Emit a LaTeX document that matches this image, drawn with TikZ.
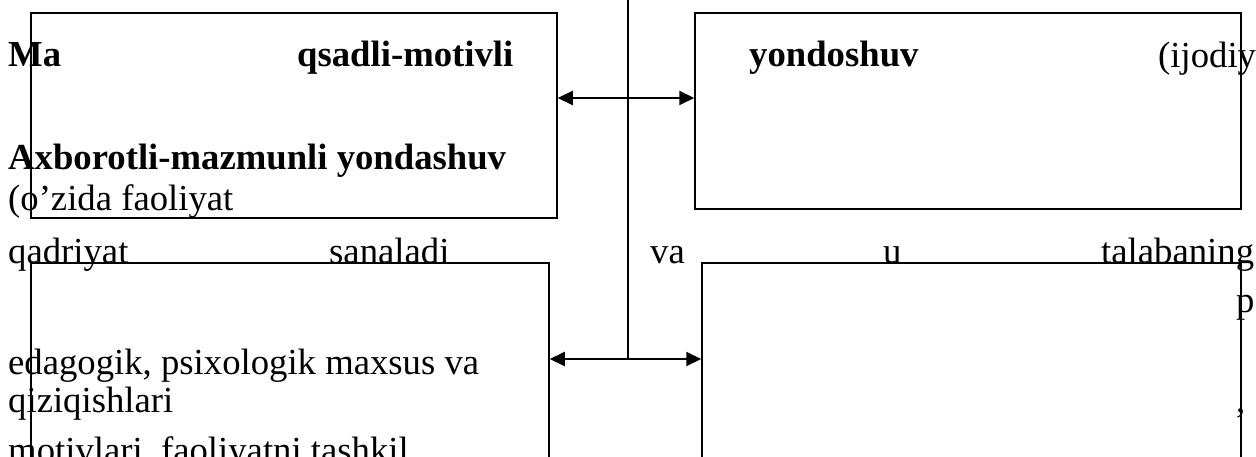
\documentclass[tikz,border=0pt]{standalone}
\usepackage{fontspec}
\setmainfont{Liberation Serif}
\usetikzlibrary{arrows.meta}
\begin{document}
\begin{tikzpicture}[x=1pt,y=-1pt,
  txt/.style={anchor=base west, inner sep=0pt, font=\fontsize{36.7}{44}\selectfont},
  btxt/.style={anchor=base west, inner sep=0pt, font=\fontsize{36.7}{44}\selectfont\bfseries},
  box/.style={draw, line width=1.5pt, inner sep=0pt},
  link/.style={line width=2pt},
  arr/.style={link, -{Triangle[length=15pt,width=14pt]}}]
\useasboundingbox (0,0) rectangle (1256,457);
\clip (0,0) rectangle (1256,457);
% texts
\node[btxt] (t1) at (8,67) {Ma};
\node[btxt] (t2) at (297,67) {qsadli-motivli};
\node[btxt] (t3) at (749,67) {yondoshuv};
\node[txt] (t4) at (1158,68) {(ijodiy};
\node[btxt] (t5) at (8,170) {Axborotli-mazmunli yondashuv};
\node[txt] (t6) at (8,211) {(o’zida faoliyat};
\node[txt] (t7) at (8,263) {qadriyat};
\node[txt] (t8) at (329,263) {sanaladi};
\node[txt] (t9) at (650,263) {va};
\node[txt] (t10) at (883,263) {u};
\node[txt] (t11) at (1101,263) {talabaning};
\node[txt] (t12) at (1236,312) {p};
\node[txt] (t13) at (8,374) {edagogik, psixologik maxsus va};
\node[txt] (t14) at (8,412) {qiziqishlari};
\node[txt] (t15) at (1236,412) {,};
\node[txt] (t16) at (8,462) {motivlari, faoliyatni tashkil};
% boxes
\node[box, minimum width=526pt, minimum height=205pt] (tl) at (294,115.5) {};
\node[box, minimum width=546pt, minimum height=196pt] (tr) at (968,111) {};
\node[box, minimum width=518pt, minimum height=220pt] (bl) at (290,373) {};
\node[box, minimum width=539pt, minimum height=220pt] (br) at (971.5,373) {};
% connectors
\coordinate (top) at (628,0);
\coordinate (j1) at (628,98);
\coordinate (j2) at (628,359);
\draw[link] (top) -- (j2);
\draw[arr] (j1) -- (tl.east |- j1);
\draw[arr] (j1) -- (tr.west |- j1);
\draw[arr] (j2) -- (bl.east |- j2);
\draw[arr] (j2) -- (br.west |- j2);
\end{tikzpicture}
\end{document}
